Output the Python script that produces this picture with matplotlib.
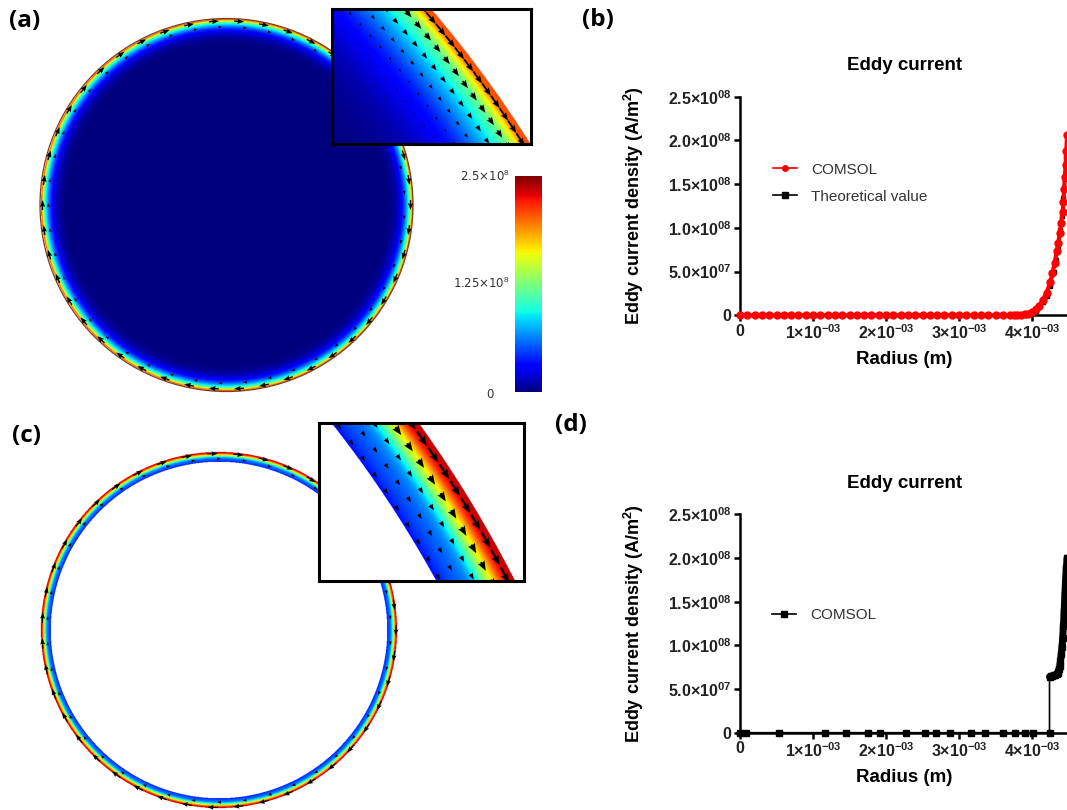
import numpy as np
import matplotlib
matplotlib.use('Agg')
import matplotlib.pyplot as plt
from matplotlib.colors import Normalize, PowerNorm
from matplotlib.cm import ScalarMappable
from matplotlib.patches import Circle

plt.rcParams['font.family'] = ['Liberation Sans', 'DejaVu Sans']
plt.rcParams['mathtext.fontset'] = 'custom'
plt.rcParams['mathtext.rm'] = 'Liberation Sans'
plt.rcParams['mathtext.bf'] = 'Liberation Sans:bold'
plt.rcParams['mathtext.it'] = 'Liberation Sans:italic'

W, H = 1067, 810

# (b) solid rod: radius in mm, eddy current density in 1e8 A/m^2
rod_r = [0.0, 0.1, 0.2, 0.3, 0.4, 0.5, 0.6, 0.7, 0.8, 0.9,
         1.0, 1.1, 1.2, 1.3, 1.4, 1.5, 1.6, 1.7, 1.8, 1.9,
         2.0, 2.1, 2.2, 2.3, 2.4, 2.5, 2.6, 2.7, 2.8, 2.9,
         3.0, 3.1, 3.2, 3.3, 3.4, 3.5, 3.6, 3.7,
         3.75, 3.8, 3.85, 3.9, 3.95, 4.0, 4.05, 4.1, 4.15, 4.2,
         4.25, 4.28, 4.31, 4.34, 4.36, 4.38, 4.4, 4.42, 4.43, 4.44,
         4.45, 4.46, 4.47, 4.48]
rod_comsol = [0, 0, 0, 0, 0, 0, 0, 0, 0, 0,
              0, 0, 0, 0, 0, 0, 0, 0, 0, 0,
              0, 0, 0, 0, 0, 0, 0, 0, 0, 0,
              0, 0, 0, 0, 0, 0, 0, 0,
              0.002, 0.004, 0.006, 0.01, 0.02, 0.04, 0.07, 0.11, 0.18, 0.26,
              0.38, 0.48, 0.60, 0.73, 0.83, 0.94, 1.06, 1.18, 1.30, 1.45,
              1.58, 1.72, 1.88, 2.06]
theo_r = [0.0, 0.5, 1.0, 1.5, 2.0, 2.5, 3.0, 3.5, 3.8, 3.9, 4.0, 4.05, 4.1,
          4.15, 4.2, 4.25, 4.3, 4.33, 4.36, 4.39, 4.41, 4.43, 4.45, 4.47]
theo_j = [0, 0, 0, 0, 0, 0, 0, 0, 0.003, 0.008, 0.03, 0.05, 0.09,
          0.15, 0.22, 0.33, 0.50, 0.63, 0.79, 0.98, 1.14, 1.34, 1.56, 1.82]

# (d) hollow tube
tube_r = [0.0, 0.08, 0.54, 1.16, 1.45, 1.76, 1.92, 2.28, 2.53, 2.68, 2.88,
          3.17, 3.36, 3.60, 3.77, 3.90, 4.02, 4.24,
          4.24, 4.26, 4.28, 4.30, 4.32, 4.34, 4.35, 4.36, 4.37, 4.38, 4.39,
          4.40, 4.41, 4.42, 4.43, 4.44, 4.45, 4.46, 4.47, 4.48]
tube_j = [0, 0, 0, 0, 0, 0, 0, 0, 0, 0, 0,
          0, 0, 0, 0, 0, 0, 0,
          0.64, 0.645, 0.65, 0.655, 0.66, 0.67, 0.68, 0.70, 0.73, 0.76, 0.82,
          0.90, 0.98, 1.08, 1.22, 1.38, 1.58, 1.76, 1.88, 2.00]

x_ticks = [0, 1e-3, 2e-3, 3e-3, 4e-3]
x_labels = ['0', '1×10$^{\\mathbf{-03}}$', '2×10$^{\\mathbf{-03}}$',
            '3×10$^{\\mathbf{-03}}$', '4×10$^{\\mathbf{-03}}$']
y_ticks = [0, 5e7, 1e8, 1.5e8, 2e8, 2.5e8]
y_labels = ['0', '5.0×10$^{\\mathbf{07}}$', '1.0×10$^{\\mathbf{08}}$',
            '1.5×10$^{\\mathbf{08}}$', '2.0×10$^{\\mathbf{08}}$',
            '2.5×10$^{\\mathbf{08}}$']

R_OUT = 4.5

fig = plt.figure(figsize=(W / 100, H / 100), dpi=100)
cmap = plt.get_cmap('jet').copy()
cmap.set_bad((1, 1, 1, 0))


def px_axes(left, top, width, height):
    return fig.add_axes([left / W, 1 - (top + height) / H, width / W, height / H])


def draw_field(ax, prof_r, prof_j, r_in, norm, x0, x1, y0, y1, n):
    xs = np.linspace(x0, x1, n)
    ys = np.linspace(y0, y1, int(n * (y1 - y0) / (x1 - x0)))
    X, Y = np.meshgrid(xs, ys)
    rr = np.hypot(X, Y)
    J = np.interp(rr, prof_r, prof_j)
    J = np.ma.masked_where((rr > R_OUT) | (rr < r_in), J)
    ax.imshow(J, extent=(x0, x1, y0, y1), origin='lower', cmap=cmap,
              norm=norm, interpolation='bilinear')


def draw_arrows(ax, prof_r, prof_j, radii, step, length, width, head, offset=0.0):
    jmax = max(prof_j)
    for i, rr in enumerate(radii):
        n = int(round(2 * np.pi * rr / step))
        th = np.linspace(0, 2 * np.pi, n, endpoint=False) + offset + i * 0.5 * step / rr
        L = np.interp(rr, prof_r, prof_j) / jmax * length
        ax.quiver(rr * np.cos(th), rr * np.sin(th), L * np.sin(th), -L * np.cos(th),
                  angles='xy', scale_units='xy', scale=1, pivot='middle',
                  units='dots', width=width, headwidth=head, headlength=head * 1.3,
                  headaxislength=head * 1.15, minlength=0, color='black', zorder=3)


def clean(ax):
    ax.set_xticks([])
    ax.set_yticks([])
    for s in ax.spines.values():
        s.set_visible(False)


def frame(ax):
    ax.set_xticks([])
    ax.set_yticks([])
    for s in ax.spines.values():
        s.set_linewidth(2.2)


# ---------- (a) solid rod cross-section ----------
norm_a = Normalize(0, 2.5)
half = 190 / 186.5 * R_OUT
ax_a = px_axes(226.5 - 190, 205 - 190, 380, 380)
draw_field(ax_a, rod_r, rod_comsol, 0.0, norm_a, -half, half, -half, half, 700)
ax_a.add_patch(Circle((0, 0), R_OUT, fill=False, ec='#7a3f1f', lw=0.9))
draw_arrows(ax_a, rod_r, rod_comsol, [4.44, 4.3], 0.6, 0.34, 1.3, 4)
ax_a.set_xlim(-half, half)
ax_a.set_ylim(-half, half)
clean(ax_a)

# inset (a)
ax_ai = px_axes(332, 9, 199, 135)
draw_field(ax_ai, rod_r, rod_comsol, 0.0, norm_a, 3.043, 3.808, 2.398, 2.917, 500)
draw_arrows(ax_ai, rod_r, rod_comsol,
            [4.475, 4.42, 4.365, 4.31, 4.255, 4.2, 4.145, 4.09, 4.035, 3.98],
            0.058, 0.06, 1.8, 3.5)
ax_ai.set_xlim(3.043, 3.808)
ax_ai.set_ylim(2.398, 2.917)
frame(ax_ai)

# colour bar
cax = px_axes(515, 176, 27, 216)
cb = fig.colorbar(ScalarMappable(norm=norm_a, cmap='jet'), cax=cax)
cb.set_ticks([])
cb.outline.set_visible(False)
fig.text(510 / W, 1 - 176 / H, '2.5×10$^8$', ha='right', va='center',
         fontsize=8.5, family='DejaVu Sans', color='#333333')
fig.text(510 / W, 1 - 283 / H, '1.25×10$^8$', ha='right', va='center',
         fontsize=8.5, family='DejaVu Sans', color='#333333')
fig.text(490 / W, 1 - 395 / H, '0', ha='center', va='center',
         fontsize=8.5, family='DejaVu Sans', color='#333333')

# ---------- (c) hollow tube cross-section ----------
ring_r = tube_r[18:]
ring_j = tube_j[18:]
norm_c = PowerNorm(0.35, vmin=0.635, vmax=2.3)
half_c = 182 / 178.5 * R_OUT
ax_c = px_axes(219 - 182, 630.5 - 182, 364, 364)
draw_field(ax_c, ring_r, ring_j, ring_r[0], norm_c, -half_c, half_c, -half_c, half_c, 900)
draw_arrows(ax_c, ring_r, ring_j, [4.46, 4.33], 0.65, 0.3, 1.2, 4)
ax_c.set_xlim(-half_c, half_c)
ax_c.set_ylim(-half_c, half_c)
clean(ax_c)

# inset (c)
ax_ci = px_axes(319, 423, 205, 158)
draw_field(ax_ci, ring_r, ring_j, ring_r[0], norm_c, 3.282, 4.041, 2.043, 2.628, 500)
draw_arrows(ax_ci, ring_r, ring_j, [4.475, 4.42, 4.365, 4.31, 4.255],
            0.074, 0.068, 2.2, 3.5)
ax_ci.set_xlim(3.282, 4.041)
ax_ci.set_ylim(2.043, 2.628)
frame(ax_ci)


# ---------- line charts ----------
def style_chart(ax):
    ax.set_xlim(0, 4.5e-3)
    ax.set_ylim(0, 2.5e8)
    for s in ['top', 'right']:
        ax.spines[s].set_visible(False)
    for s in ['left', 'bottom']:
        ax.spines[s].set_linewidth(1.8)
    ax.set_xticks(x_ticks)
    ax.set_xticklabels(x_labels)
    ax.set_yticks(y_ticks)
    ax.set_yticklabels(y_labels)
    ax.tick_params(direction='out', length=4, width=1.8, labelsize=11.5, pad=2)
    for t in ax.get_xticklabels() + ax.get_yticklabels():
        t.set_fontweight('bold')
        t.set_color('#222222')
    ax.set_title('Eddy current', fontweight='bold', fontsize=13.5, pad=19)
    ax.set_xlabel('Radius (m)', fontweight='bold', fontsize=13.5)
    ax.xaxis.set_label_coords(0.5, -0.165)
    ax.set_ylabel('Eddy current density (A/m$^{\\mathbf{2}}$)', fontweight='bold', fontsize=13)
    ax.yaxis.set_label_coords(-0.285, 0.5)


mm = 1e-3
e8 = 1e8

ax_b = px_axes(740, 96.7, 328.5, 218.6)
ax_b.plot([r * mm for r in theo_r], [j * e8 for j in theo_j], color='black', lw=1.2,
          marker='s', ms=3.5, clip_on=False, label='Theoretical value', zorder=2)
ax_b.plot([r * mm for r in rod_r], [j * e8 for j in rod_comsol], color='#ff0000', lw=3,
          marker='o', ms=5, clip_on=False, label='COMSOL', zorder=3)
style_chart(ax_b)
h, l = ax_b.get_legend_handles_labels()
leg = ax_b.legend(h[::-1], l[::-1], loc='center left', bbox_to_anchor=(0.1, 0.605),
                  frameon=False, fontsize=11, handlelength=1.6, handletextpad=0.9,
                  borderpad=0, borderaxespad=0, labelspacing=0.85, labelcolor='#333333')
for ln in leg.get_lines():
    ln.set_linewidth(1.2)
    ln.set_markersize(4)

ax_d = px_axes(740, 514.3, 328.5, 218.4)
ax_d.plot([r * mm for r in tube_r], [j * e8 for j in tube_j], color='black', lw=1.2,
          marker='s', ms=4, clip_on=False, label='COMSOL', zorder=3)
ax_d.plot([r * mm for r in ring_r], [j * e8 for j in ring_j], color='black', lw=5,
          solid_capstyle='round', solid_joinstyle='round', clip_on=False, zorder=3)
style_chart(ax_d)
h, l = ax_d.get_legend_handles_labels()
ax_d.legend(h[:1], l[:1], loc='center left', bbox_to_anchor=(0.097, 0.539),
            frameon=False, fontsize=11, handlelength=1.6, handletextpad=0.9,
            borderpad=0, borderaxespad=0, labelcolor='#333333')

# panel letters
for txt, x, y in [('(a)', 9, 9), ('(b)', 582, 8), ('(c)', 12, 424), ('(d)', 555, 413)]:
    fig.text(x / W, 1 - y / H, txt, fontsize=17.5, fontweight='bold',
             family=['Open Sans', 'DejaVu Sans'], ha='left', va='top')

fig.savefig('out.png', dpi=100)
